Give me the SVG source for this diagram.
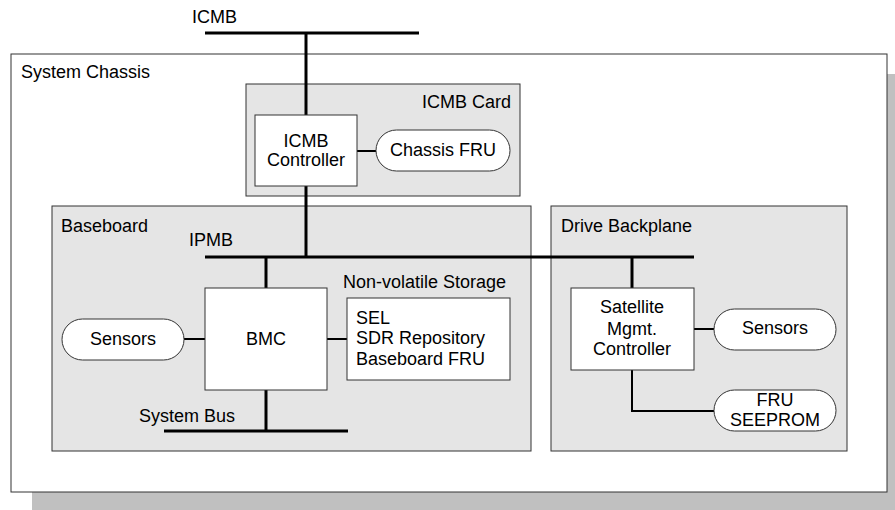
<svg xmlns="http://www.w3.org/2000/svg" width="895" height="510" viewBox="0 0 895 510">
<style>
text{font-family:"Liberation Sans",Arial,sans-serif;font-size:18px;fill:#000}
.c{text-anchor:middle}
.r{text-anchor:end}
.panel{fill:#e5e5e5;stroke:#333;stroke-width:1}
.box{fill:#fff;stroke:#333;stroke-width:1}
.pill{fill:#fff;stroke:#333;stroke-width:1}
.bus{stroke:#000;stroke-width:3;fill:none}
.wire{stroke:#000;stroke-width:2;fill:none}
</style>
<rect x="32" y="74" width="863" height="436" fill="#c0c0c0"/>
<g id="chassis">
<rect x="11" y="54" width="876" height="438" fill="#fff" stroke="#333" stroke-width="1"/>
<text x="21" y="78">System Chassis</text>
</g>
<g id="icmb-card">
<rect class="panel" x="246" y="84" width="274" height="112"/>
<text class="r" x="511" y="108">ICMB Card</text>
</g>
<g id="baseboard">
<rect class="panel" x="52" y="206" width="479" height="245"/>
<text x="61" y="232">Baseboard</text>
</g>
<g id="drive-backplane">
<rect class="panel" x="551" y="206" width="296" height="245"/>
<text x="561" y="232">Drive Backplane</text>
</g>
<g id="connectors">
<line class="bus" x1="205" y1="33" x2="419" y2="33"/>
<line class="bus" x1="306" y1="33" x2="306" y2="257"/>
<line class="bus" x1="205" y1="257" x2="694" y2="257"/>
<line class="bus" x1="266" y1="257" x2="266" y2="288"/>
<line class="bus" x1="632" y1="257" x2="632" y2="288"/>
<line class="bus" x1="266" y1="390" x2="266" y2="431"/>
<line class="bus" x1="164" y1="431" x2="348" y2="431"/>
<line class="wire" x1="357" y1="151" x2="376" y2="151"/>
<line class="wire" x1="184" y1="339" x2="205" y2="339"/>
<line class="wire" x1="327" y1="339" x2="347" y2="339"/>
<line class="wire" x1="694" y1="329" x2="714" y2="329"/>
<polyline class="wire" points="632,370 632,411 714,411"/>
</g>
<g id="icmb-label"><text x="192" y="23">ICMB</text></g>
<g id="ipmb-label"><text x="189" y="246">IPMB</text></g>
<g id="sysbus-label"><text x="139" y="422">System Bus</text></g>
<g id="icmb-controller">
<rect class="box" x="255" y="115" width="102" height="71"/>
<text class="c" x="306" y="147">ICMB</text>
<text class="c" x="306" y="166">Controller</text>
</g>
<g id="chassis-fru">
<rect class="pill" x="376" y="130" width="134" height="41" rx="20.5"/>
<text class="c" x="443" y="156">Chassis FRU</text>
</g>
<g id="bmc">
<rect class="box" x="205" y="288" width="122" height="102"/>
<text class="c" x="266" y="345">BMC</text>
</g>
<g id="sensors-bb">
<rect class="pill" x="62" y="319" width="122" height="41" rx="20.5"/>
<text class="c" x="123" y="345">Sensors</text>
</g>
<g id="nv-storage">
<text x="343" y="288">Non-volatile Storage</text>
<rect class="box" x="347" y="298" width="163" height="82"/>
<text x="356" y="324">SEL</text>
<text x="356" y="344">SDR Repository</text>
<text x="356" y="365">Baseboard FRU</text>
</g>
<g id="satellite">
<rect class="box" x="571" y="288" width="123" height="82"/>
<text class="c" x="632" y="313">Satellite</text>
<text class="c" x="632" y="335">Mgmt.</text>
<text class="c" x="632" y="355">Controller</text>
</g>
<g id="sensors-db">
<rect class="pill" x="714" y="309" width="122" height="41" rx="20.5"/>
<text class="c" x="775" y="334">Sensors</text>
</g>
<g id="fru-seeprom">
<rect class="pill" x="714" y="390" width="122" height="41" rx="20.5"/>
<text class="c" x="775" y="406">FRU</text>
<text class="c" x="775" y="426">SEEPROM</text>
</g>
</svg>
